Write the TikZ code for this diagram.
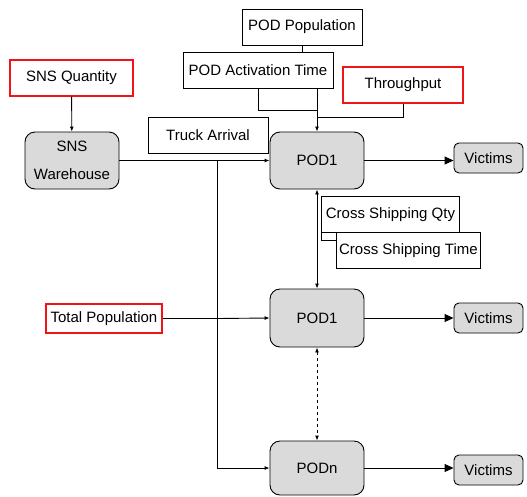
\documentclass[tikz,border=0pt]{standalone}
\usepackage{fontspec}
\setmainfont{Liberation Sans}
\usetikzlibrary{arrows.meta}
\definecolor{podgray}{RGB}{218,218,218}
\definecolor{inred}{RGB}{240,20,25}

\begin{document}
\begin{tikzpicture}[x=1pt,y=-1pt,line width=0.9pt,>={Latex[length=5pt,width=4pt]},
  box/.style={draw,minimum height=36pt,inner sep=0pt,font=\fontsize{15}{18}\selectfont},
  inbox/.style={box,draw=inred,line width=1.2pt},
  pod/.style={box,fill=podgray,rounded corners=10pt,minimum width=94pt,align=center},
  vic/.style={box,fill=podgray,rounded corners=5pt,minimum width=69pt,minimum height=30pt},
  tovic/.style={-{Triangle[length=9pt,width=8pt]}}]
  \useasboundingbox (0,0) rectangle (527,496);
  % inputs
  \node[box,minimum width=120pt] (podpop) at (302,27) {POD Population};
  \node[box,minimum width=150pt] (podact) at (258,70) {POD Activation Time};
  \node[inbox,minimum width=123pt] (snsq) at (71.5,78) {SNS Quantity};
  \node[inbox,minimum width=120pt] (tput) at (403,85) {Throughput};
  \node[box,minimum width=120pt] (truck) at (208,135) {Truck Arrival};
  \node[inbox,minimum width=116pt,minimum height=29pt] (totpop) at (104,318.5) {Total Population};
  % warehouse and pods
  \node[pod,minimum height=57pt] (snsw) at (72,160.5) {SNS\\[10pt]Warehouse};
  \node[pod,minimum height=57pt] (pod1) at (317,160.5) {POD1};
  \node[pod,minimum height=58pt] (pod2) at (317,318) {POD1};
  \node[pod,minimum height=54pt] (podn) at (317,468) {PODn};
  \node[vic] (vic1) at (488.5,158) {Victims};
  \node[vic] (vic2) at (488.5,318) {Victims};
  \node[vic] (vic3) at (488.5,470) {Victims};
  % cross shipping
  \node[box,minimum width=138pt,anchor=north west] (csq) at (321,196) {Cross Shipping Qty};
  \node[box,minimum width=144pt,anchor=north west,fill=white] (cst) at (336,232) {Cross Shipping Time};
  \draw (cst.north west) ++(0,8) -| (csq.south west);

  \coordinate (wj) at (217,160.5);
  \coordinate (tj) at (217,318.5);
  \draw[->] (snsq) -- (snsw);
  \draw[->] (snsw) -- (pod1);
  \draw[->] (wj) |- (podn.west);
  \draw[line width=1.6pt] (totpop.east) -- (tj);
  \draw[->] (tj) -- (pod2.west);
  \draw (podpop.south) -- (podpop.south |- podact.north);
  \draw (podact.south) |- (317,110);
  \draw (tput.south) |- (317,117);
  \draw[->] (podact.south -| pod1.north) -- (pod1.north);
  \draw[<->] (pod1) -- (pod2);
  \draw[<->,dashed] (pod2) -- (podn);
  \draw[tovic] (pod1) -- (pod1 -| vic1.west);
  \draw[tovic] (pod2) -- (vic2);
  \draw[tovic] (podn) -- (podn -| vic3.west);
\end{tikzpicture}
\end{document}
